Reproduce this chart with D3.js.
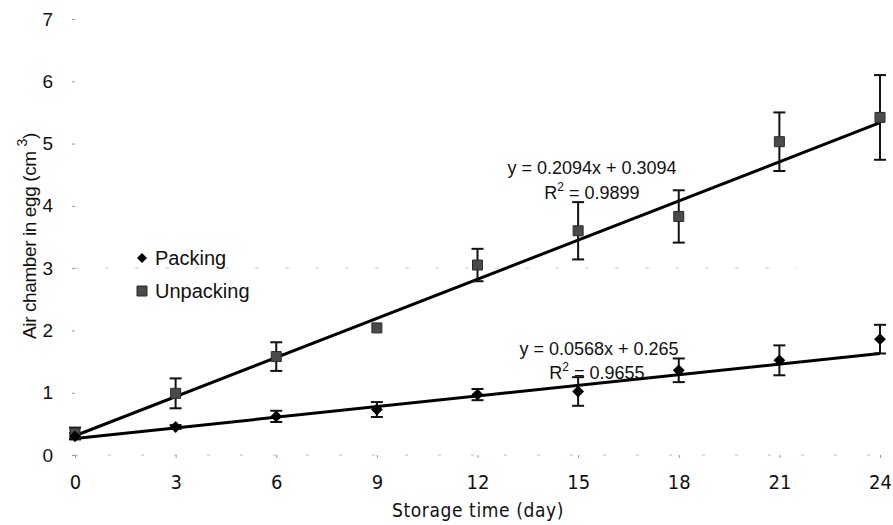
<!DOCTYPE html>
<html>
<head>
<meta charset="utf-8">
<script src="https://cdn.jsdelivr.net/npm/d3@7"></script>
<style>
  body { margin: 0; background: #fff; }
  text { font-family: "Liberation Sans", Arial, sans-serif; fill: #111; }
  .narrow { font-family: "Liberation Sans Narrow", "DejaVu Sans Condensed", sans-serif; }
</style>
</head>
<body>
<script>
// data
var days = [0, 3, 6, 9, 12, 15, 18, 21, 24];
var packing = [0.30, 0.45, 0.62, 0.73, 0.97, 1.02, 1.36, 1.52, 1.86];
var packingErr = [0.05, 0.03, 0.09, 0.12, 0.09, 0.23, 0.19, 0.24, 0.23];
var unpacking = [0.35, 0.99, 1.58, 2.04, 3.05, 3.60, 3.83, 5.03, 5.42];
var unpackingErr = [0.09, 0.24, 0.23, 0.00, 0.26, 0.46, 0.42, 0.47, 0.68];
var seriesNames = ["Packing", "Unpacking"];
var slopes = [0.0568, 0.2094];
var intercepts = [0.265, 0.3094];
var eqTexts = ["y = 0.0568x + 0.265", "y = 0.2094x + 0.3094"];
var r2Texts = ["= 0.9655", "= 0.9899"];
var xTicks = [0, 3, 6, 9, 12, 15, 18, 21, 24];
var yTicks = [0, 1, 2, 3, 4, 5, 6, 7];

var W = 893, H = 525;
var x = d3.scaleLinear().domain([0, 24]).range([75, 880]);
var y = d3.scaleLinear().domain([0, 7]).range([455, 19]);

var svg = d3.select("body").append("svg")
    .attr("width", W).attr("height", H);

// faint axes (scanned look)
svg.append("line")
    .attr("x1", x(0)).attr("x2", x(24))
    .attr("y1", y(0)).attr("y2", y(0))
    .attr("stroke", "#bbb").attr("stroke-width", 1)
    .attr("stroke-dasharray", "3,30");
svg.append("line")
    .attr("x1", x(0)).attr("x2", x(21.5))
    .attr("y1", y(3)).attr("y2", y(3))
    .attr("stroke", "#ccc").attr("stroke-width", 1)
    .attr("stroke-dasharray", "4,26");

// y axis
var yAxis = svg.append("g")
    .attr("transform", "translate(" + x(0) + ",0)")
    .call(d3.axisLeft(y).tickValues(yTicks).tickFormat(d3.format("d"))
      .tickSize(3).tickPadding(19));
yAxis.select(".domain").remove();
yAxis.selectAll(".tick line").attr("stroke", "#999");
yAxis.selectAll(".tick text")
    .style("font-size", "19px").attr("fill", "#111");

// x axis
var xAxis = svg.append("g")
    .attr("transform", "translate(0," + y(0) + ")")
    .call(d3.axisBottom(x).tickValues(xTicks).tickSize(3).tickPadding(17));
xAxis.select(".domain").remove();
xAxis.selectAll(".tick line").attr("stroke", "#999");
xAxis.selectAll(".tick text")
    .attr("class", "narrow")
    .style("font-size", "20px").attr("fill", "#111");

// axis titles
svg.append("text")
    .attr("class", "narrow")
    .attr("x", 478).attr("y", 517)
    .attr("text-anchor", "middle")
    .style("font-size", "19px")
    .style("letter-spacing", "0.6px")
    .text("Storage time (day)");

var yTitle = svg.append("text")
    .attr("transform", "translate(36,236) rotate(-90)")
    .attr("text-anchor", "middle")
    .style("font-size", "19px")
    .style("letter-spacing", "-0.4px");
yTitle.append("tspan").text("Air chamber in egg (cm ");
yTitle.append("tspan").attr("dy", -9).style("font-size", "14px").text("3");
yTitle.append("tspan").attr("dy", 9).text(")");

// trendlines
[0, 1].forEach(function(i) {
  svg.append("line")
      .attr("x1", x(0)).attr("y1", y(intercepts[i]))
      .attr("x2", x(24)).attr("y2", y(intercepts[i] + slopes[i] * 24))
      .attr("stroke", "#000").attr("stroke-width", 3);
});

// error bars
function drawErr(vals, errs) {
  var g = svg.append("g").attr("stroke", "#111").attr("stroke-width", 2);
  days.forEach(function(d, i) {
    if (errs[i] <= 0) return;
    var cx = x(d), y0 = y(vals[i] - errs[i]), y1 = y(vals[i] + errs[i]);
    g.append("line").attr("x1", cx).attr("x2", cx).attr("y1", y0).attr("y2", y1);
    g.append("line").attr("x1", cx - 6).attr("x2", cx + 6).attr("y1", y0).attr("y2", y0);
    g.append("line").attr("x1", cx - 6).attr("x2", cx + 6).attr("y1", y1).attr("y2", y1);
  });
}
drawErr(unpacking, unpackingErr);
drawErr(packing, packingErr);

// markers (diamond = square turned 45deg)
var diamond = d3.symbol().type(d3.symbolSquare).size(70);
var square = d3.symbol().type(d3.symbolSquare).size(100);

svg.append("g").selectAll("path")
    .data(unpacking)
    .join("path")
    .attr("d", square)
    .attr("transform", function(d, i) { return "translate(" + x(days[i]) + "," + y(d) + ")"; })
    .attr("fill", "#4a4a4a").attr("stroke", "#2a2a2a").attr("stroke-width", 1);

svg.append("g").selectAll("path")
    .data(packing)
    .join("path")
    .attr("d", diamond)
    .attr("transform", function(d, i) {
      return "translate(" + x(days[i]) + "," + y(d) + ") rotate(45)";
    })
    .attr("fill", "#000");

// equations
var eqPos = [[599, 355, 597, 379], [592, 174, 592, 199]];
[0, 1].forEach(function(i) {
  svg.append("text")
      .attr("x", eqPos[i][0]).attr("y", eqPos[i][1])
      .attr("text-anchor", "middle")
      .style("font-size", "18px")
      .text(eqTexts[i]);
  var r = svg.append("text")
      .attr("x", eqPos[i][2]).attr("y", eqPos[i][3])
      .attr("text-anchor", "middle")
      .style("font-size", "18px");
  r.append("tspan").text("R");
  r.append("tspan").attr("dy", -8).style("font-size", "12px").text("2");
  r.append("tspan").attr("dy", 8).text(" " + r2Texts[i]);
});

// legend
var legend = svg.append("g").attr("transform", "translate(142,258)");
seriesNames.forEach(function(name, i) {
  var row = legend.append("g").attr("transform", "translate(0," + (i * 33) + ")");
  row.append("path")
      .attr("d", i === 0 ? d3.symbol().type(d3.symbolSquare).size(50)() : square)
      .attr("transform", i === 0 ? "rotate(45)" : null)
      .attr("fill", i === 0 ? "#000" : "#4a4a4a")
      .attr("stroke", i === 0 ? "none" : "#2a2a2a");
  row.append("text")
      .attr("x", 13).attr("y", 7)
      .style("font-size", "20px")
      .text(name);
});
</script>
</body>
</html>
